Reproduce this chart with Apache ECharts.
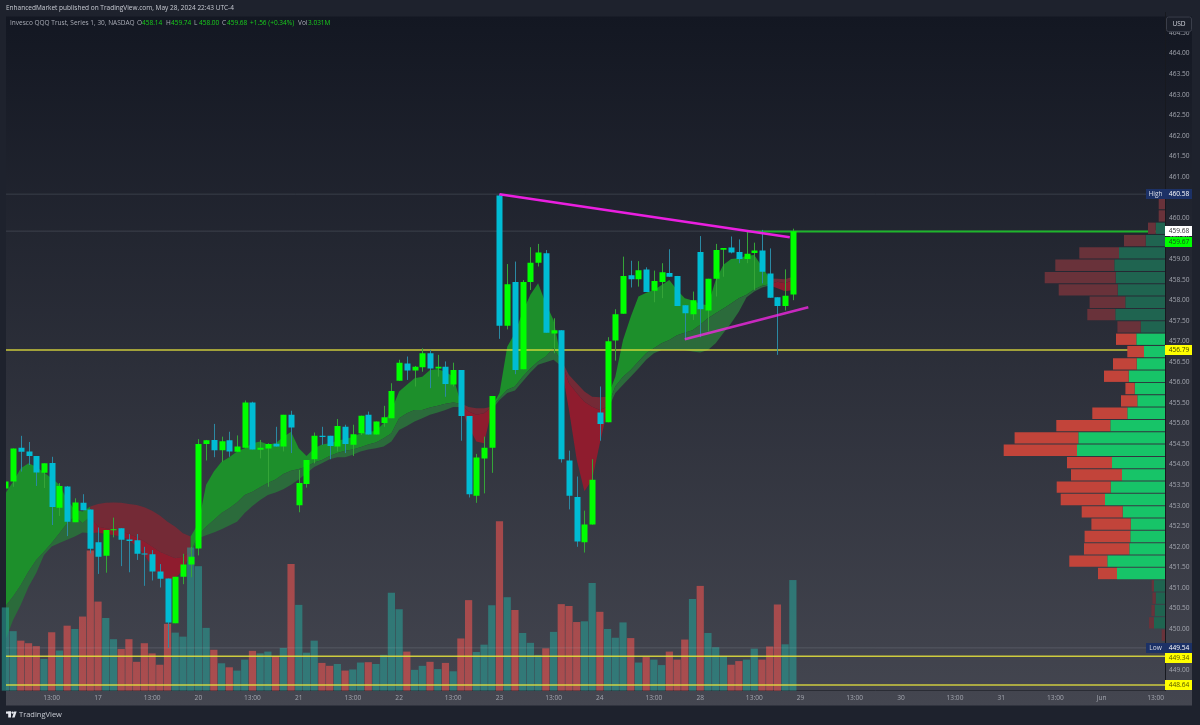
<!DOCTYPE html>
<html>
<head>
<meta charset="utf-8">
<title>QQQ 30 min</title>
<script src="https://cdn.jsdelivr.net/npm/echarts@6/dist/echarts.min.js"></script>
<style>
  html, body { margin: 0; padding: 0; background: #1e222d; }
  #chart { width: 1200px; height: 725px; }
</style>
</head>
<body>
<div id="chart"></div>
<script>
// candles, one per 30 min bar
const opens = [453.42,453.59,454.41,454.32,454.21,453.80,454.04,452.95,453.47,452.60,453.07,452.91,452.11,451.78,452.40,452.45,452.18,452.16,451.84,451.82,451.40,451.23,450.14,451.27,451.57,451.96,454.50,454.60,454.35,454.59,454.31,454.41,455.51,454.36,454.39,454.51,454.44,455.21,453.01,453.53,454.13,454.70,454.70,454.44,454.92,454.48,454.76,455.21,454.73,455.01,455.13,456.04,456.46,456.29,456.37,456.71,456.34,456.38,455.95,456.30,455.18,453.24,454.15,454.41,460.55,457.38,458.44,456.32,458.44,458.91,459.14,457.19,457.27,454.10,453.21,452.11,452.54,455.27,455.03,457.02,457.67,458.61,458.51,458.75,458.23,458.44,458.66,458.59,457.88,457.66,459.17,457.75,458.52,459.23,459.28,459.17,459.00,459.15,459.21,458.65,458.07,457.86,458.14]
const closes = [453.59,454.39,454.31,454.21,453.81,454.03,452.97,453.48,452.61,453.08,452.89,451.95,451.76,452.41,452.43,452.17,452.14,451.83,451.82,451.40,451.22,450.16,451.27,451.57,451.76,454.50,454.59,454.35,454.57,454.32,454.44,455.51,454.37,454.41,454.50,454.44,455.21,454.90,453.55,454.11,454.70,454.67,454.45,454.94,454.50,454.74,455.19,454.73,455.05,455.15,455.79,456.48,456.29,456.38,456.71,456.34,456.38,455.96,456.30,455.18,453.28,454.17,454.41,455.67,457.38,458.39,456.30,458.44,458.91,459.16,457.21,457.27,454.13,453.24,452.13,452.54,453.63,454.99,457.00,457.66,458.59,458.51,458.73,458.20,458.47,458.68,458.57,457.86,457.68,458.00,457.78,458.52,459.22,459.27,459.16,459.00,459.13,459.21,458.69,458.06,457.86,458.11,459.68]
const lows = [453.30,453.46,453.83,453.99,453.48,453.43,452.53,452.75,452.26,452.60,452.89,451.84,451.34,451.37,452.23,451.53,451.38,451.68,451.05,451.18,451.01,449.54,450.14,451.09,451.26,451.79,454.10,454.18,454.07,454.19,454.31,454.41,454.37,454.15,453.46,454.44,454.32,454.28,452.84,453.44,454.03,454.48,454.13,454.32,454.28,454.21,454.72,454.73,454.73,454.92,455.13,456.04,456.06,455.90,456.26,455.86,456.14,455.65,455.90,454.58,453.20,453.07,453.30,453.80,457.06,457.29,456.20,456.32,458.25,458.82,457.21,456.71,454.05,452.91,452.00,451.86,452.54,454.58,455.03,456.53,457.67,458.31,458.33,458.20,457.95,458.05,458.57,457.86,457.05,457.52,457.10,457.24,458.09,458.57,459.14,458.90,458.90,458.25,458.41,458.06,456.67,457.75,458.00]
const highs = [453.59,454.39,454.70,454.55,454.21,454.03,454.19,453.55,453.48,453.18,453.28,452.91,452.47,452.41,452.71,452.45,452.31,452.31,452.00,451.92,451.58,451.23,451.27,451.83,452.00,454.62,454.60,454.99,454.68,454.80,454.71,455.56,455.53,454.60,454.52,454.92,455.21,455.31,453.87,454.11,454.78,454.92,454.70,455.11,454.97,454.97,455.19,455.29,455.05,455.43,455.98,456.55,456.63,456.40,456.83,456.79,456.67,456.51,456.48,456.30,455.18,454.26,454.68,455.67,460.58,458.88,458.94,458.49,459.29,459.37,459.22,457.56,457.27,454.34,453.71,452.88,454.13,455.90,457.10,457.78,459.06,458.96,458.95,458.80,458.72,458.90,459.24,458.59,457.88,458.21,459.56,458.52,459.37,459.27,459.55,459.48,459.67,459.40,459.71,459.26,458.07,458.75,459.74]

// volume in millions
const volumes = [2.28,1.63,1.37,1.30,1.22,0.87,1.60,1.10,1.78,1.69,2.03,3.84,2.44,1.99,1.41,1.14,1.41,0.79,1.30,1.02,0.71,1.83,1.59,1.48,3.92,3.41,1.72,1.12,0.75,0.64,0.55,0.85,1.09,1.02,1.07,0.95,1.17,3.47,2.35,1.04,1.37,0.76,0.68,0.73,0.55,0.58,0.77,0.78,0.73,0.98,2.68,2.23,1.07,0.57,0.68,0.79,0.59,0.76,0.53,1.43,2.48,1.06,1.26,2.34,4.64,2.56,2.21,1.58,1.31,0.98,1.16,1.61,2.37,2.32,1.88,1.90,2.95,2.16,1.69,1.45,1.87,1.44,0.77,0.92,0.85,0.70,1.07,0.85,1.40,2.51,2.87,1.58,1.19,0.95,0.71,0.81,0.85,1.15,0.85,1.21,2.36,1.27,3.03]

// ribbon edges
const ribbonUpper = [453.30,453.59,453.91,454.03,453.95,453.81,453.67,453.51,453.14,452.90,452.86,452.98,453.04,453.07,453.08,453.07,453.04,453.02,452.96,452.88,452.76,452.61,452.49,452.33,452.25,452.57,453.51,453.83,454.07,454.18,454.32,454.40,454.52,454.56,454.49,454.52,454.67,454.80,454.40,454.21,454.40,454.49,454.52,454.58,454.62,454.67,454.76,454.80,454.82,455.01,455.33,455.78,455.94,456.10,456.14,456.30,456.32,456.26,456.14,455.49,455.40,455.37,455.37,455.41,455.74,456.87,457.20,457.72,458.13,458.41,457.92,457.52,456.55,456.18,455.98,455.78,455.65,455.64,455.65,456.14,457.03,457.60,458.09,458.18,458.25,458.37,458.49,458.25,458.05,457.99,457.91,457.88,458.49,458.86,459.00,459.02,459.08,459.10,458.82,458.53,458.52,458.51,458.57]
const ribbonMiddle = [450.55,450.79,451.07,451.40,451.68,451.88,452.09,452.33,452.57,452.73,452.57,452.73,452.49,452.45,452.41,452.37,452.31,452.23,452.13,452.01,451.88,451.80,451.72,451.76,451.88,452.29,452.49,452.65,452.82,452.94,453.08,453.26,453.34,453.45,453.55,453.64,453.77,453.85,453.89,453.95,454.05,454.11,454.21,454.28,454.34,454.37,454.42,454.49,454.54,454.64,454.76,455.13,455.25,455.33,455.33,455.39,455.43,455.48,455.51,455.48,455.29,455.21,455.25,455.40,455.62,455.82,455.90,456.14,456.34,456.51,456.63,456.83,456.51,455.98,455.74,455.53,455.41,455.33,455.41,455.90,456.14,456.30,456.51,456.71,456.83,456.95,457.03,457.15,457.21,457.27,457.40,457.56,457.68,457.80,457.92,458.05,458.13,458.26,458.35,458.39,458.45,458.41,458.49]
const ribbonLower = [449.73,450.22,450.59,451.03,451.36,451.80,452.01,452.09,452.17,452.25,452.35,452.33,452.35,452.31,452.29,452.25,452.17,452.01,451.80,451.52,451.29,451.19,451.23,451.44,451.84,452.21,452.28,452.35,452.43,452.52,452.61,452.82,452.99,453.14,453.26,453.32,453.40,453.51,453.64,453.79,453.94,454.03,454.13,454.18,454.18,454.24,454.32,454.37,454.40,454.44,454.56,454.84,454.94,455.05,455.13,455.21,455.27,455.33,455.40,455.40,454.92,454.56,454.52,455.33,455.57,455.74,455.80,456.02,456.24,456.43,456.49,456.55,456.39,455.33,454.12,453.35,453.63,454.52,455.33,455.74,455.94,456.14,456.34,456.55,456.71,456.79,456.79,456.79,456.79,456.75,456.73,456.79,456.95,457.20,457.44,457.72,458.07,458.21,458.31,458.36,458.29,458.22,458.25]
const ribbonRunStarts = [0,11,24,59,63,72,78,99]
const ribbonRunEnds = [11,24,59,63,72,78,99,102]
const ribbonRunBull = [1,0,1,0,1,0,1,0]

// volume profile rows
const profileStart = 449.85
const profileGreen = [0,11,10.3,9.3,11,48,57.7,35.7,34.7,34.3,42.3,60,54.3,43,53,88,86.7,54.7,37.7,27.7,30.3,36.3,28.3,21,28.7,24.3,49.7,39.7,47.3,49.3,50.7,46,19.3,9.3,0,0]
const profileRed = [3.3,5,3.3,3.3,2.3,19,38,45.3,45.7,39.3,41,44.3,54,51,45,73.3,63.7,54,35,16.3,9.3,24.7,23.7,16.7,20.3,23.3,28,35.7,59,71,59,39.7,21.7,7.7,6.3,6.3]
const profileBrightFrom = 451.2
const profileBrightTo = 457.2

// price levels drawn across the chart
const yellowLevels = [456.79, 449.34, 448.64]
const greyLevels = [460.58, 459.68, 449.54]
const lastHighLevel = 459.67
const upperTrend = [[64, 460.58], [101.6, 459.53]]
const lowerTrend = [[88, 457.05], [104, 457.83]]

// time axis
const tickPositions = [6,12,19,25,32,38,45,51,58,64,71,77,84,90,97,103,110,116,123,129,136,142,149]
const tickLabels = ['13:00','17','13:00','20','13:00','21','13:00','22','13:00','23','13:00','24','13:00','28','13:00','29','13:00','30','13:00','31','13:00','Jun','13:00']

// price tags on the right scale
const tagPrices = [460.58, 459.68, 459.42, 456.79, 449.54, 449.29, 448.64]
const tagTexts = ['460.58','459.68','459.67','456.79','449.54','449.34','448.64']
const tagTitles = ['High','','','','Low','','']
const tagFills = ['#1c3166','#ffffff','#00ff00','#ffff00','#1c3166','#ffff00','#ffff00']
const tagColors = ['#ffffff','#333333','#14501a','#444400','#ffffff','#555500','#555500']

const X_MIN = 0.08
const X_MAX = 150.2
const UI_FONT = '"Open Sans", sans-serif'
const BODY_UP = '#00ff00'
const BODY_DOWN = '#00bcd4'
const AXIS_SIZE = 6.6

const chart = echarts.init(document.getElementById('chart'), null, { renderer: 'canvas' })

const candleRows = opens.map((o, i) => [i, o, closes[i], lows[i], highs[i]])
const volumeRows = volumes.map((v, i) => ({
  value: [i, v],
  itemStyle: { color: closes[i] >= opens[i] ? 'rgba(38,166,154,0.55)' : 'rgba(239,83,80,0.6)' }
}))
const profileRows = profileGreen.map((g, k) => [profileStart + k * 0.3, g, profileRed[k]])
const runRows = ribbonRunStarts.map((s, k) => [s, ribbonRunEnds[k], ribbonRunBull[k]])
const tagRows = tagPrices.map((p, k) => [p, k])

function renderRibbon(params, api) {
  const from = api.value(0)
  const to = api.value(1)
  const bull = api.value(2) === 1
  const band = (top, bottom, fill) => {
    const points = []
    for (let i = from; i <= to; i++) points.push(api.coord([i, top[i]]))
    for (let i = to; i >= from; i--) points.push(api.coord([i, bottom[i]]))
    return { type: 'polygon', shape: { points }, style: { fill } }
  }
  return {
    type: 'group',
    children: [
      band(ribbonUpper, ribbonMiddle, bull ? '#1d8f2b' : '#742a36'),
      band(ribbonMiddle, ribbonLower, bull ? '#2b6b3b' : '#8f1c2e')
    ]
  }
}

function renderCandle(params, api) {
  const i = api.value(0)
  const open = api.value(1)
  const close = api.value(2)
  const up = close >= open
  const color = up ? BODY_UP : BODY_DOWN
  const top = api.coord([i, Math.max(open, close)])
  const bottom = api.coord([i, Math.min(open, close)])
  const high = api.coord([i, api.value(4)])
  const low = api.coord([i, api.value(3)])
  const x = Math.round(top[0])
  return {
    type: 'group',
    children: [
      {
        type: 'line',
        shape: { x1: x + 0.5, y1: high[1], x2: x + 0.5, y2: low[1] },
        style: { stroke: up ? '#35a538' : '#2b89a3', lineWidth: 1 }
      },
      {
        type: 'rect',
        shape: { x: x - 2.5, y: top[1], width: 6, height: Math.max(bottom[1] - top[1], 1) },
        style: { fill: color }
      }
    ]
  }
}

function renderProfile(params, api) {
  const price = api.value(0)
  const bright = price > profileBrightFrom && price < profileBrightTo
  const right = api.coord([0, price])
  const green = api.coord([api.value(1), price])
  const red = api.coord([api.value(1) + api.value(2), price])
  const height = api.size([0, 0.3])[1] - 1
  const y = right[1] - height / 2
  return {
    type: 'group',
    children: [
      {
        type: 'rect',
        shape: { x: green[0], y, width: right[0] - green[0], height },
        style: { fill: bright ? '#17c468' : '#1f6450' }
      },
      {
        type: 'rect',
        shape: { x: red[0], y, width: green[0] - red[0], height },
        style: { fill: bright ? '#c2443a' : '#69323a' }
      }
    ]
  }
}

function renderTag(params, api) {
  const k = api.value(1)
  const p = api.coord([X_MAX, api.value(0)])
  const y = Math.round(p[1]) - 5
  const children = []
  if (tagTitles[k]) {
    children.push({
      type: 'rect',
      shape: { x: p[0] - 19, y, width: 19, height: 10 },
      style: { fill: tagFills[k] }
    })
    children.push({
      type: 'text',
      style: { x: p[0] - 9.5, y: y + 5, text: tagTitles[k], fill: '#d8dbe6', font: AXIS_SIZE + 'px ' + UI_FONT, align: 'center', verticalAlign: 'middle' }
    })
  }
  children.push({
    type: 'rect',
    shape: { x: p[0], y, width: 27, height: 10 },
    style: { fill: tagFills[k] }
  })
  children.push({
    type: 'text',
    style: { x: p[0] + 14, y: y + 5, text: tagTexts[k], fill: tagColors[k], font: AXIS_SIZE + 'px ' + UI_FONT, align: 'center', verticalAlign: 'middle' }
  })
  return { type: 'group', children }
}

function levelSeries(name, price, color, width, z, fromX) {
  return {
    name,
    type: 'line',
    xAxisIndex: 0,
    yAxisIndex: 0,
    data: [[fromX === undefined ? X_MIN : fromX, price], [X_MAX, price]],
    symbol: 'none',
    silent: true,
    z,
    lineStyle: { color, width }
  }
}

function headerText(x, y, text, fill, size) {
  return { type: 'text', x, y, z: 30, style: { text, fill, font: size + 'px ' + UI_FONT, verticalAlign: 'middle' } }
}

const legend = [
  [137, 'O', '458.14'],
  [166, 'H', '459.74'],
  [194, 'L', '458.00'],
  [222, 'C', '459.68']
]

const graphics = [
  {
    type: 'rect',
    z: -1,
    shape: { x: 6, y: 16.5, width: 1186, height: 689 },
    style: {
      fill: new echarts.graphic.LinearGradient(0, 0, 0, 1, [
        { offset: 0, color: '#131722' },
        { offset: 1, color: '#444650' }
      ])
    }
  },
  headerText(6, 8, 'EnhancedMarket published on TradingView.com, May 28, 2024 22:43 UTC-4', '#c8cbd3', 6.5),
  headerText(10, 23.5, 'Invesco QQQ Trust, Series 1, 30, NASDAQ', '#a9acb6', 6.5),
  ...legend.flatMap(([x, key, val]) => [
    headerText(x, 23.5, key, '#a9acb6', 6.5),
    headerText(x + 5, 23.5, val, '#19cf1c', 6.5)
  ]),
  headerText(250, 23.5, '+1.56 (+0.34%)', '#19cf1c', 6.5),
  headerText(298, 23.5, 'Vol', '#a9acb6', 6.5),
  headerText(308, 23.5, '3.031M', '#19cf1c', 6.5),
  {
    type: 'rect',
    z: 30,
    shape: { x: 1166.5, y: 17, width: 25, height: 14.5, r: 2 },
    style: { fill: '#1b1f2a', stroke: '#3a3e4a', lineWidth: 1 }
  },
  {
    type: 'text',
    z: 31,
    x: 1179,
    y: 24.5,
    style: { text: 'USD', fill: '#d1d4dc', font: AXIS_SIZE + 'px ' + UI_FONT, align: 'center', verticalAlign: 'middle' }
  },
  // TradingView mark
  { type: 'rect', z: 30, shape: { x: 6, y: 711.5, width: 5, height: 2.2 }, style: { fill: '#e6e8ee' } },
  { type: 'rect', z: 30, shape: { x: 8.2, y: 711.5, width: 2.8, height: 6 }, style: { fill: '#e6e8ee' } },
  { type: 'circle', z: 30, shape: { cx: 12.6, cy: 712.6, r: 1.2 }, style: { fill: '#e6e8ee' } },
  { type: 'polygon', z: 30, shape: { points: [[14.2, 711.5], [16.6, 711.5], [14.6, 717.5], [12.1, 717.5]] }, style: { fill: '#e6e8ee' } },
  headerText(19, 715, 'TradingView', '#c8cbd3', 7.5)
]

chart.setOption({
  animation: false,
  backgroundColor: '#1e222d',
  graphic: { elements: graphics },
  grid: { left: 6, right: 35, top: 12.5, height: 678.15, containLabel: false },
  xAxis: [
    {
      type: 'value',
      min: X_MIN,
      max: X_MAX,
      splitLine: { show: false },
      axisTick: { show: false },
      axisLine: { show: true, onZero: false, lineStyle: { color: '#2a2c34', width: 1 } },
      axisLabel: {
        customValues: tickPositions,
        formatter: (v) => tickLabels[tickPositions.indexOf(v)] || '',
        color: '#a3a6af',
        fontFamily: 'Open Sans',
        fontSize: AXIS_SIZE,
        margin: 4
      }
    },
    { type: 'value', min: 0, max: 1159, inverse: true, show: false, position: 'top' }
  ],
  yAxis: [
    {
      type: 'value',
      position: 'right',
      min: 448.5,
      max: 465,
      interval: 0.5,
      splitLine: { show: false },
      axisTick: { show: false },
      axisLine: { show: true, lineStyle: { color: '#17191f', width: 1 } },
      axisLabel: {
        formatter: (v) => (v > 464.6 || v < 448.6 ? '' : v.toFixed(2)),
        color: '#a3a6af',
        fontFamily: 'Open Sans',
        fontSize: AXIS_SIZE,
        margin: 4
      }
    },
    { type: 'value', min: 0, max: 18.58, show: false, splitLine: { show: false } }
  ],
  series: [
    {
      name: 'Ribbon',
      type: 'custom',
      xAxisIndex: 0,
      yAxisIndex: 0,
      clip: true,
      silent: true,
      z: 2,
      renderItem: renderRibbon,
      data: runRows
    },
    {
      name: 'Volume',
      type: 'bar',
      xAxisIndex: 0,
      yAxisIndex: 1,
      barWidth: 7.2,
      silent: true,
      z: 3,
      data: volumeRows
    },
    ...greyLevels.map((p, k) => levelSeries('Grey ' + k, p, 'rgba(210,214,225,0.15)', 1, 4)),
    ...yellowLevels.map((p, k) => levelSeries('Level ' + k, p, 'rgba(232,228,60,0.85)', 1.5, 5)),
    levelSeries('Session high', lastHighLevel, '#1fb52c', 2, 5, 96),
    {
      name: 'Candles',
      type: 'custom',
      xAxisIndex: 0,
      yAxisIndex: 0,
      clip: true,
      silent: true,
      z: 6,
      renderItem: renderCandle,
      data: candleRows
    },
    {
      name: 'Upper trend',
      type: 'line',
      xAxisIndex: 0,
      yAxisIndex: 0,
      data: upperTrend,
      symbol: 'none',
      z: 7,
      lineStyle: { color: '#ea1fe0', width: 2.5 }
    },
    {
      name: 'Lower trend',
      type: 'line',
      xAxisIndex: 0,
      yAxisIndex: 0,
      data: lowerTrend,
      symbol: 'none',
      z: 7,
      lineStyle: { color: 'rgba(240,40,225,0.8)', width: 2.5 }
    },
    {
      name: 'Profile',
      type: 'custom',
      xAxisIndex: 1,
      yAxisIndex: 0,
      silent: true,
      z: 8,
      renderItem: renderProfile,
      data: profileRows
    },
    {
      name: 'Tags',
      type: 'custom',
      xAxisIndex: 0,
      yAxisIndex: 0,
      silent: true,
      z: 20,
      encode: { y: 0 },
      renderItem: renderTag,
      data: tagRows
    }
  ]
})
</script>
</body>
</html>
